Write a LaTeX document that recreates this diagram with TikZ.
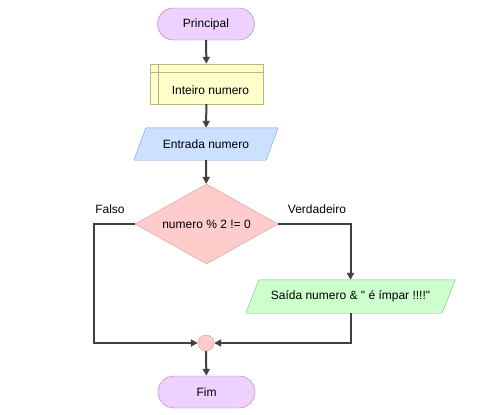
\documentclass[tikz,border=0pt]{standalone}
\usepackage{fontspec}
\setmainfont{Liberation Sans}[Ligatures=TeXOff]
\usepackage{tikz}
\usetikzlibrary{arrows.meta, positioning, shapes.geometric, backgrounds}

\definecolor{termfill}{HTML}{EFD1FF}
\definecolor{termdraw}{HTML}{A07DB0}
\definecolor{declfill}{HTML}{FFFFCC}
\definecolor{decldraw}{HTML}{B8B87E}
\definecolor{infill}{HTML}{CCE0FF}
\definecolor{indraw}{HTML}{7E9ECF}
\definecolor{decfill}{HTML}{FFCCCC}
\definecolor{decdraw}{HTML}{CF9C9C}
\definecolor{outfill}{HTML}{CCFFCC}
\definecolor{outdraw}{HTML}{84B384}
\definecolor{flowcol}{HTML}{404040}

\begin{document}
\begin{tikzpicture}[x=1pt, y=-1pt, font=\fontsize{12}{14}\selectfont,
    term/.style={draw=termdraw, fill=termfill, rectangle, rounded corners=16pt,
        minimum width=97pt, minimum height=32pt, inner sep=0pt},
    decl/.style={draw=decldraw, fill=declfill, rectangle,
        minimum width=113pt, minimum height=40pt, inner sep=0pt},
    io/.style={rectangle, minimum height=32pt, inner sep=0pt},
    dec/.style={diamond, draw=decdraw, fill=decfill, aspect=1.79,
        minimum width=143pt, minimum height=80pt, inner sep=0pt},
    joint/.style={circle, draw=decdraw, fill=decfill, minimum size=16pt, inner sep=0pt},
    flow/.style={draw=flowcol, line width=2pt, -{Triangle[length=7pt, width=7pt]}}]
    \useasboundingbox (0,0) rectangle (483,415);

    % Blocks
    \node[term] (start) at (206,24) {Principal};
    \node[decl] (var) at (206.5,84) {};
    \draw[decldraw] ([xshift=8pt]var.north west) -- ([xshift=8pt]var.south west);
    \draw[decldraw] ([yshift=-8pt]var.north west) -- ([yshift=-8pt]var.north east);
    \node (varname) at ([xshift=4pt, yshift=-6pt]var.center) {Inteiro numero};
    \node[io, minimum width=132pt] (in) at (206,144) {Entrada numero};
    \node[dec] (test) at (206.5,224) {numero \% 2 != 0};
    \node[io, minimum width=196pt, minimum height=33pt] (out)
        at (350.5,296.5) {Saída numero \& " é ímpar !!!!"};
    \node[joint] (join) at (206,343) {};
    \node[term] (end) at (206.5,392) {Fim};

    % Parallelograms
    \begin{pgfonlayer}{background}
        \filldraw[draw=indraw, fill=infill]
            ([xshift=6pt]in.north west) -- ([xshift=6pt]in.north east) --
            ([xshift=-6pt]in.south east) -- ([xshift=-6pt]in.south west) -- cycle;
        \filldraw[draw=outdraw, fill=outfill]
            ([xshift=6.5pt]out.north west) -- ([xshift=6.5pt]out.north east) --
            ([xshift=-6.5pt]out.south east) -- ([xshift=-6.5pt]out.south west) -- cycle;
    \end{pgfonlayer}

    % Labels
    \node (falso) at (110,209) {Falso};
    \node (verd) at (317,209) {Verdadeiro};

    % Flow
    \draw[flow] (start) -- (var);
    \draw[flow] (var) -- (in);
    \draw[flow] (in) -- (test);
    \draw[flow] (test.west) -- ++(-41,0) |- (join.west);
    \draw[flow] (test.east) -| (out.north);
    \draw[flow] (out.south) |- (join.east);
    \draw[flow] (join) -- (end);
\end{tikzpicture}
\end{document}
